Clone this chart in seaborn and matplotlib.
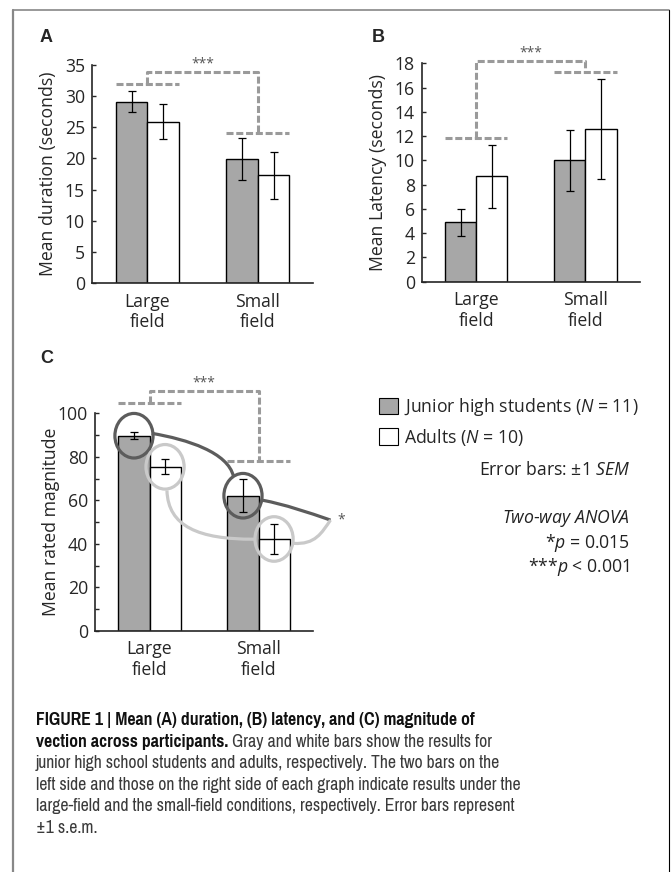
import numpy as np
import pandas as pd
import seaborn as sns
import matplotlib.pyplot as plt
import matplotlib.font_manager as fm
from matplotlib.patches import Ellipse, Patch, PathPatch
from matplotlib.path import Path
from matplotlib.lines import Line2D
from matplotlib.text import Annotation
from matplotlib.ticker import MultipleLocator

# Data
fields = ['Large\nfield', 'Small\nfield']
groups = ['Junior high students', 'Adults']

duration_jh = [29.1, 19.9]
duration_jh_err = [1.7, 3.4]
duration_ad = [25.9, 17.3]
duration_ad_err = [2.8, 3.8]

latency_jh = [4.9, 10.0]
latency_jh_err = [1.1, 2.5]
latency_ad = [8.7, 12.6]
latency_ad_err = [2.6, 4.1]

magnitude_jh = [89.7, 62.1]
magnitude_jh_err = [1.6, 7.7]
magnitude_ad = [75.4, 42.2]
magnitude_ad_err = [3.4, 6.9]

GRAY = '#a7a7a7'
FONT = 'Open Sans'
FS = 12.7

sns.set_style('ticks')
plt.rcParams['font.family'] = [FONT, 'DejaVu Sans']
plt.rcParams['mathtext.fontset'] = 'custom'
plt.rcParams['mathtext.rm'] = FONT
plt.rcParams['mathtext.it'] = FONT + ':italic'
plt.rcParams['font.size'] = FS


def _w(w):
    return fm.weight_dict.get(w, 400) if isinstance(w, str) else int(w)


# narrow face with a real bold for the caption
weights = {}
for f in fm.fontManager.ttflist:
    weights.setdefault(f.name, set()).add(_w(f.weight))
cap_font = 'Liberation Sans'
for name in ['Liberation Sans Narrow', 'Pragati Narrow', 'PT Sans Narrow',
             'IBM Plex Sans Condensed', 'Roboto Condensed', 'Archivo Narrow']:
    ws = weights.get(name, set())
    if 400 in ws and max(ws, default=0) >= 700:
        cap_font = name
        break

fig = plt.figure(figsize=(6.71, 8.72), dpi=100)


def bar_panel(ax, jh, jh_err, ad, ad_err, ylabel, ymax, step):
    df = pd.DataFrame({
        'field': fields * 2,
        'group': [groups[0]] * 2 + [groups[1]] * 2,
        'value': list(jh) + list(ad),
    })
    sns.barplot(data=df, x='field', y='value', hue='group', hue_order=groups,
                palette=[GRAY, 'white'], edgecolor='black', linewidth=1,
                width=0.57, gap=0, errorbar=None, legend=False, ax=ax)
    for cont, err in zip(ax.containers, [jh_err, ad_err]):
        xs = [p.get_x() + p.get_width() / 2 for p in cont]
        ys = [p.get_height() for p in cont]
        ax.errorbar(xs, ys, yerr=err, fmt='none', ecolor='black',
                    elinewidth=0.9, capsize=3, capthick=0.9)
    ax.set_xlim(-0.5, 1.5)
    ax.set_ylim(0, ymax)
    ax.set_yticks(np.arange(0, ymax + 0.1, step))
    ax.set_xlabel('')
    ax.set_ylabel(ylabel, fontsize=FS)
    ax.yaxis.set_label_coords(-0.16, 0.5)
    sns.despine(ax=ax)
    for s in ['left', 'bottom']:
        ax.spines[s].set_linewidth(1.2)
    ax.tick_params(axis='y', direction='in', length=3, width=1, pad=5, labelsize=FS)
    ax.tick_params(axis='x', length=0, pad=7, labelsize=FS)
    for lbl in ax.get_xticklabels():
        lbl.set_linespacing(1.2)
    ax.set_facecolor('none')


def sig_bracket(ax, left_y, right_y, top_y):
    kw = dict(color='#9a9a9a', lw=2.2, ls=(0, (2.3, 0.9)), clip_on=False)
    half = 0.285
    ax.plot([-half, half], [left_y, left_y], **kw)
    ax.plot([1 - half, 1 + half], [right_y, right_y], **kw)
    ax.plot([0, 0, 1, 1], [left_y, top_y, top_y, right_y], **kw)
    ax.annotate('***', xy=(0.5, top_y), xytext=(0, 0), textcoords='offset points',
                ha='center', va='bottom', fontsize=10, color='#555555',
                annotation_clip=False)


# Panel A
axA = fig.add_axes([0.1371, 0.6755, 0.3294, 0.25])
bar_panel(axA, duration_jh, duration_jh_err, duration_ad, duration_ad_err,
          'Mean duration (seconds)', 35, 5)
sig_bracket(axA, 31.9, 24.1, 33.9)

# Panel B
axB = fig.add_axes([0.6285, 0.6770, 0.3253, 0.2504])
bar_panel(axB, latency_jh, latency_jh_err, latency_ad, latency_ad_err,
          'Mean Latency (seconds)', 18, 2)
sig_bracket(axB, 11.85, 17.3, 18.2)

# Panel C
axC = fig.add_axes([0.1416, 0.2767, 0.3249, 0.2493])
bar_panel(axC, magnitude_jh, magnitude_jh_err, magnitude_ad, magnitude_ad_err,
          'Mean rated magnitude', 100, 20)
axC.yaxis.set_minor_locator(MultipleLocator(10))
axC.tick_params(axis='y', which='minor', direction='in', length=3, width=1)
sig_bracket(axC, 104.6, 78.1, 110.4)

# circles round the bar tops in C
dark, light = '#5c5c5c', '#c9c9c9'
for cont, col in zip(axC.containers, [dark, light]):
    for p in cont:
        cx = p.get_x() + p.get_width() / 2
        axC.add_patch(Ellipse((cx, p.get_height()), 0.35, 20.5, fill=False,
                              ec=col, lw=2.3, clip_on=False, zorder=5))

# interaction curves
curves = [
    (dark, [(0.02, 90.8), (0.35, 88), (0.72, 82), (0.77, 71)]),
    (dark, [(1.03, 60.1), (1.25, 58.0), (1.45, 54.5), (1.66, 50.9)]),
    (light, [(0.16, 64.5), (0.17, 48), (0.45, 42), (0.96, 42.1)]),
    (light, [(1.32, 40.2), (1.52, 39.5), (1.58, 45), (1.66, 50.9)]),
]
for col, pts in curves:
    path = Path(pts, [Path.MOVETO, Path.CURVE4, Path.CURVE4, Path.CURVE4])
    axC.add_patch(PathPatch(path, fill=False, ec=col, lw=2.3, clip_on=False, zorder=5))
axC.text(1.72, 50.9, '*', ha='left', va='center', fontsize=10, color='#555555')

# panel letters
for lbl, x, y in [('A', 40, 37), ('B', 372, 37), ('C', 40, 358)]:
    fig.text(x / 671, 1 - y / 872, lbl, fontsize=13, fontweight='bold',
             family='Liberation Sans', ha='left', va='center')

# legend
handles = [Patch(facecolor=GRAY, edgecolor='black', lw=0.8),
           Patch(facecolor='white', edgecolor='black', lw=0.8)]
fig.legend(handles, ['Junior high students ($N$ = 11)', 'Adults ($N$ = 10)'],
           loc='upper left', bbox_to_anchor=(379 / 671, 1 - 396 / 872),
           frameon=False, borderpad=0, borderaxespad=0, handlelength=1.1,
           handleheight=1.1, handletextpad=0.3, labelspacing=0.5, fontsize=FS)

notes = [('Error bars: ±1 $SEM$', 470), ('$Two$-$way$ $ANOVA$', 518),
         ('*$p$ = 0.015', 543), ('***$p$ < 0.001', 567)]
for txt, y in notes:
    fig.text(630 / 671, 1 - y / 872, txt, ha='right', va='center', fontsize=FS,
             color='#222222')

# frame
fig.add_artist(Line2D([13 / 671, 13 / 671], [0, 1 - 10 / 872], color='#888888', lw=1.6))
fig.add_artist(Line2D([13 / 671, 669 / 671], [1 - 10 / 872, 1 - 10 / 872], color='#888888', lw=1.2))
fig.add_artist(Line2D([669 / 671, 669 / 671], [0, 1 - 10 / 872], color='black', lw=0.8))

# caption
lines = [
    ('FIGURE 1 | Mean (A) duration, (B) latency, and (C) magnitude of', ''),
    ('vection across participants.', ' Gray and white bars show the results for'),
    ('', 'junior high school students and adults, respectively. The two bars on the'),
    ('', 'left side and those on the right side of each graph indicate results under the'),
    ('', 'large-field and the small-field conditions, respectively. Error bars represent'),
    ('', '±1 s.e.m.'),
]
cap_kw = dict(family=[cap_font, 'DejaVu Sans'])

# fit caption size so the widest line spans the same width as in the figure
renderer = fig.canvas.get_renderer()
probe = fig.text(0, 0, lines[3][1], fontsize=10, **cap_kw)
w10 = probe.get_window_extent(renderer).width
probe.remove()
cap_size = min(14.5, 10 * 486 / w10)

for i, (bold, reg) in enumerate(lines):
    yb = 1 - (725 + i * 21.6) / 872
    t = fig.text(36 / 671, yb, bold, ha='left', va='baseline', fontsize=cap_size,
                 fontweight='bold', color='#111111', **cap_kw)
    if reg:
        fig.add_artist(Annotation(reg, xy=(1, yb), xycoords=(t, 'figure fraction'),
                                  ha='left', va='baseline', fontsize=cap_size,
                                  color='#3a3a3a', **cap_kw))

fig.savefig('out.png', dpi=100)
